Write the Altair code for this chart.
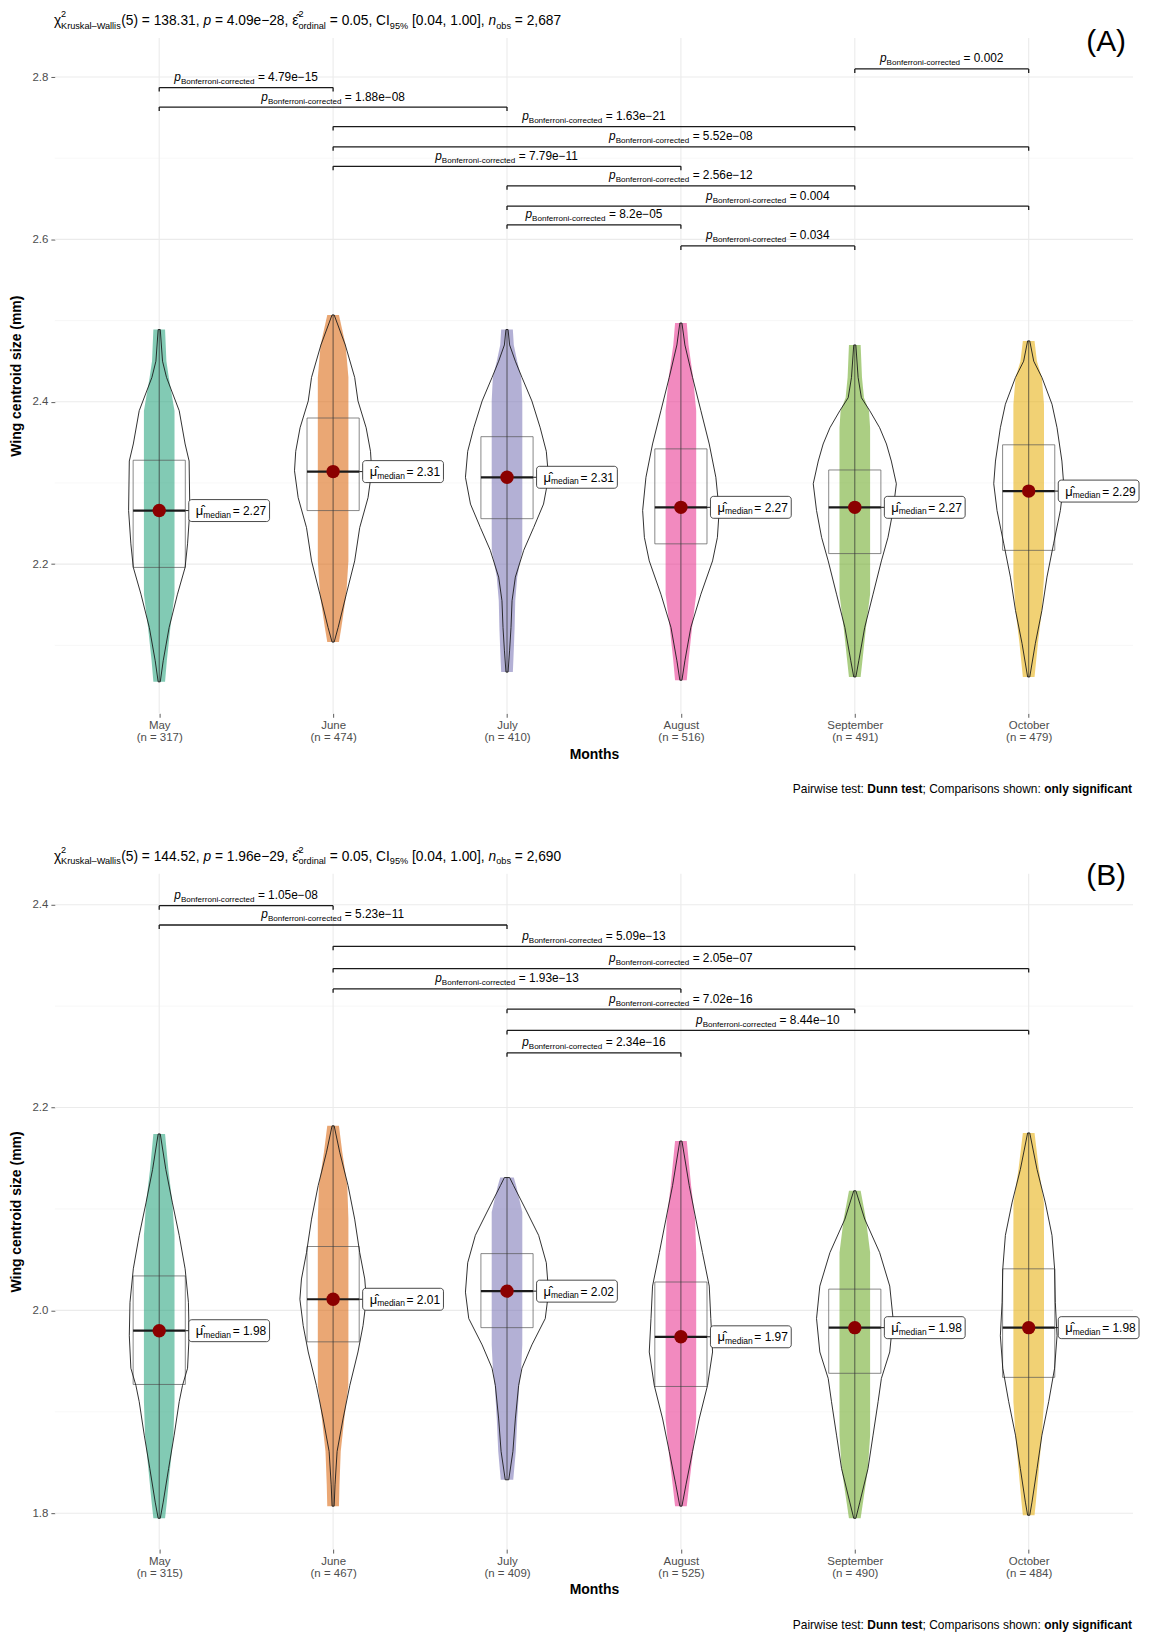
import altair as alt
import pandas as pd

FONT = "Liberation Sans"
MONTHS = ["May", "June", "July", "August", "September", "October"]
COLORS = ["#1B9E77", "#D95F02", "#7570B3", "#E7298A", "#66A61E", "#E6AB02"]

# ---------------- Panel A ----------------
A_N = [317, 474, 410, 516, 491, 479]
A_MEDIAN = [2.266, 2.314, 2.307, 2.270, 2.270, 2.290]
A_MEDIAN_TXT = ["2.27", "2.31", "2.31", "2.27", "2.27", "2.29"]
A_Q1 = [2.196, 2.266, 2.256, 2.225, 2.213, 2.217]
A_Q3 = [2.328, 2.380, 2.357, 2.342, 2.316, 2.347]

A_MAY_Y = [2.489, 2.450, 2.430, 2.389, 2.348, 2.327, 2.266, 2.225, 2.196, 2.163, 2.122, 2.081, 2.055]
A_MAY_W = [0.006, 0.019, 0.042, 0.115, 0.149, 0.172, 0.176, 0.163, 0.149, 0.105, 0.057, 0.023, 0.006]
A_JUN_Y = [2.507, 2.470, 2.430, 2.401, 2.368, 2.339, 2.315, 2.282, 2.245, 2.204, 2.163, 2.122, 2.104]
A_JUN_W = [0.006, 0.070, 0.124, 0.143, 0.190, 0.215, 0.222, 0.201, 0.153, 0.124, 0.076, 0.029, 0.006]
A_JUL_Y = [2.489, 2.470, 2.450, 2.430, 2.401, 2.368, 2.339, 2.307, 2.274, 2.245, 2.217, 2.184, 2.155, 2.122, 2.094, 2.067]
A_JUL_W = [0.006, 0.015, 0.048, 0.086, 0.143, 0.191, 0.226, 0.239, 0.210, 0.153, 0.096, 0.048, 0.029, 0.023, 0.015, 0.006]
A_AUG_Y = [2.497, 2.470, 2.430, 2.389, 2.348, 2.307, 2.266, 2.233, 2.204, 2.163, 2.122, 2.081, 2.057]
A_AUG_W = [0.006, 0.023, 0.067, 0.115, 0.163, 0.201, 0.220, 0.210, 0.182, 0.115, 0.057, 0.023, 0.006]
A_SEP_Y = [2.470, 2.430, 2.405, 2.389, 2.368, 2.348, 2.327, 2.299, 2.266, 2.233, 2.204, 2.163, 2.122, 2.081, 2.061]
A_SEP_W = [0.006, 0.019, 0.038, 0.086, 0.143, 0.182, 0.210, 0.239, 0.220, 0.191, 0.153, 0.105, 0.057, 0.023, 0.006]
A_OCT_Y = [2.475, 2.450, 2.430, 2.397, 2.368, 2.327, 2.299, 2.266, 2.225, 2.184, 2.143, 2.102, 2.061]
A_OCT_W = [0.006, 0.029, 0.076, 0.134, 0.163, 0.191, 0.201, 0.182, 0.143, 0.105, 0.076, 0.038, 0.006]

A_PAIR_I = [5, 1, 1, 2, 2, 2, 3, 3, 3, 4]
A_PAIR_J = [6, 2, 3, 5, 6, 4, 5, 6, 4, 5]
A_PAIR_Y = [2.810, 2.787, 2.763, 2.739, 2.714, 2.690, 2.666, 2.641, 2.618, 2.592]
A_PAIR_P = ["0.002", "4.79e\u221215", "1.88e\u221208", "1.63e\u221221", "5.52e\u221208",
            "7.79e\u221211", "2.56e\u221212", "0.004", "8.2e\u221205", "0.034"]
A_STATS = ["138.31", "4.09e\u221228", "2,687"]

# ---------------- Panel B ----------------
B_N = [315, 467, 409, 525, 490, 484]
B_MEDIAN = [1.980, 2.011, 2.019, 1.974, 1.983, 1.983]
B_MEDIAN_TXT = ["1.98", "2.01", "2.02", "1.97", "1.98", "1.98"]
B_Q1 = [1.927, 1.969, 1.983, 1.925, 1.938, 1.934]
B_Q3 = [2.034, 2.063, 2.056, 2.028, 2.021, 2.041]

B_MAY_Y = [2.174, 2.139, 2.106, 2.074, 2.041, 2.008, 1.975, 1.943, 1.926, 1.910, 1.877, 1.844, 1.811, 1.795]
B_MAY_W = [0.006, 0.038, 0.076, 0.115, 0.149, 0.168, 0.172, 0.163, 0.134, 0.115, 0.086, 0.054, 0.023, 0.006]
B_JUN_Y = [2.182, 2.156, 2.123, 2.090, 2.057, 2.031, 2.011, 1.985, 1.959, 1.926, 1.893, 1.861, 1.828, 1.807]
B_JUN_W = [0.006, 0.038, 0.086, 0.124, 0.153, 0.182, 0.191, 0.172, 0.143, 0.096, 0.057, 0.023, 0.011, 0.006]
B_JUL_Y = [2.131, 2.123, 2.097, 2.074, 2.047, 2.018, 1.992, 1.966, 1.943, 1.926, 1.893, 1.861, 1.833]
B_JUL_W = [0.015, 0.038, 0.115, 0.182, 0.226, 0.239, 0.220, 0.143, 0.086, 0.067, 0.048, 0.034, 0.010]
B_AUG_Y = [2.167, 2.123, 2.090, 2.057, 2.024, 1.992, 1.959, 1.926, 1.893, 1.861, 1.828, 1.807]
B_AUG_W = [0.006, 0.048, 0.086, 0.124, 0.163, 0.172, 0.182, 0.153, 0.105, 0.067, 0.029, 0.006]
B_SEP_Y = [2.118, 2.090, 2.057, 2.024, 1.992, 1.959, 1.933, 1.910, 1.877, 1.844, 1.811, 1.795]
B_SEP_W = [0.006, 0.057, 0.143, 0.201, 0.220, 0.201, 0.153, 0.134, 0.105, 0.076, 0.029, 0.006]
B_OCT_Y = [2.175, 2.139, 2.106, 2.074, 2.041, 2.008, 1.975, 1.943, 1.910, 1.877, 1.844, 1.811, 1.798]
B_OCT_W = [0.006, 0.048, 0.096, 0.134, 0.149, 0.153, 0.163, 0.149, 0.115, 0.076, 0.048, 0.019, 0.006]

B_PAIR_I = [1, 1, 2, 2, 2, 3, 3, 3]
B_PAIR_J = [2, 3, 5, 6, 4, 5, 6, 4]
B_PAIR_Y = [2.399, 2.380, 2.359, 2.337, 2.317, 2.297, 2.276, 2.254]
B_PAIR_P = ["1.05e\u221208", "5.23e\u221211", "5.09e\u221213", "2.05e\u221207",
            "1.93e\u221213", "7.02e\u221216", "8.44e\u221210", "2.34e\u221216"]
B_STATS = ["144.52", "1.96e\u221229", "2,690"]

# ---------------- layout constants ----------------
W = 1081
H = 677
XDOM = [0.4, 6.6]
XU = (XDOM[1] - XDOM[0]) / W
BOX_HW = 0.15
LAB_GAP = 0.17

REG_W = {" ": 278, "(": 333, ")": 333, ",": 278, "-": 333, ".": 278, ":": 278, ";": 278,
         "=": 584, "[": 278, "]": 278, "%": 889, "\u2212": 584, "\u2013": 556,
         "\u03c7": 520, "\u03bc": 576, "\u03b5": 450, "\u0302": 0}
for c in "0123456789":
    REG_W[c] = 556
for c, w in zip("ABCDEFGHIJKLMNOPQRSTUVWXYZ",
                [667, 667, 722, 722, 667, 611, 778, 722, 278, 500, 667, 556, 833, 722, 778, 667, 778, 722,
                 667, 611, 722, 667, 944, 667, 667, 611]):
    REG_W[c] = w
for c, w in zip("abcdefghijklmnopqrstuvwxyz",
                [556, 556, 500, 556, 556, 278, 556, 556, 222, 222, 500, 222, 833, 556, 556, 556, 556, 333,
                 500, 278, 556, 500, 722, 500, 500, 500]):
    REG_W[c] = w
BOLD_W = {" ": 278, ";": 333, ":": 333, "D": 722}
for c, w in zip("abcdefghijklmnopqrstuvwxyz",
                [556, 611, 556, 611, 556, 333, 611, 611, 278, 278, 556, 278, 889, 611, 611, 611, 611, 389,
                 556, 333, 611, 556, 778, 556, 556, 500]):
    BOLD_W[c] = w


def tw(s, size, bold=False):
    tab = BOLD_W if bold else REG_W
    tot = 0
    for c in s:
        tot += tab.get(c, REG_W.get(c, 556))
    return tot * size / 1000.0


def compose(segs, x0, base, main, small, sup_dy, sub_dy):
    out = []
    x = x0
    for seg in segs:
        kind = seg[0]
        if kind == "supsub":
            out.append((seg[1], x, base + sup_dy, small, "normal", "normal"))
            out.append((seg[2], x, base + sub_dy, small, "normal", "normal"))
            x += max(tw(seg[1], small), tw(seg[2], small))
            continue
        t = seg[1]
        size = small if kind == "sub" else main
        bold = kind == "bold"
        lead = len(t) - len(t.lstrip(" "))
        x += tw(" " * lead, size, bold)
        core = t.lstrip(" ")
        y = base + (sub_dy if kind == "sub" else 0)
        out.append((core.rstrip(" "), x, y, size, "italic" if kind == "ital" else "normal",
                    "bold" if bold else "normal"))
        x += tw(core, size, bold)
    return out, x - x0


ONE = pd.DataFrame({"k": [0]})


def piece_layers(pieces, shift=0.0):
    layers = []
    for (t, x, y, size, style, weight) in pieces:
        layers.append(
            alt.Chart(ONE).mark_text(align="left", baseline="alphabetic", font=FONT, fontSize=size,
                                     fontStyle=style, fontWeight=weight, color="black")
            .encode(x=alt.value(x + shift), y=alt.value(y), text=alt.value(t))
        )
    return layers


def make_panel(tag, tag_base, ydom, major, minor, n, med, medtxt, q1, q3, vys, vws,
               pi, pj, py, pp, stats):
    ppu = H / (ydom[1] - ydom[0])
    xs = alt.Scale(domain=XDOM, nice=False, zero=False)
    ys = alt.Scale(domain=ydom, nice=False, zero=False)

    arr = ",".join("['%s','(n = %d)']" % (m, k) for m, k in zip(MONTHS, n))
    xaxis = alt.Axis(values=[1, 2, 3, 4, 5, 6], labelExpr="[%s][datum.value - 1]" % arr,
                     grid=False, domain=False, tickSize=4, tickColor="#333333", tickWidth=0.8,
                     labelColor="#4D4D4D", labelFontSize=11.5, labelLineHeight=12.5, labelPadding=2,
                     labelOverlap=False, labelFlush=False, title="Months", titleFontSize=14,
                     titleFontWeight="bold", titleColor="black", titlePadding=4)
    yaxis = alt.Axis(values=major, format=".1f", grid=False, domain=False, tickSize=4,
                     tickColor="#333333", tickWidth=0.8, labelColor="#4D4D4D", labelFontSize=11.5,
                     labelPadding=3, labelFlush=False, title="Wing centroid size (mm)",
                     titleFontSize=14, titleFontWeight="bold", titleColor="black", titlePadding=8)

    def X(f):
        return alt.X(f, type="quantitative", scale=xs, axis=xaxis)

    def Y(f):
        return alt.Y(f, type="quantitative", scale=ys, axis=yaxis)

    layers = []
    # grid
    layers.append(alt.Chart(pd.DataFrame({"y": minor})).mark_rule(color="#F3F3F3", strokeWidth=0.7)
                  .encode(y=Y("y"), x=alt.value(0), x2=alt.value(W)))
    layers.append(alt.Chart(pd.DataFrame({"y": major})).mark_rule(color="#EBEBEB", strokeWidth=1.1)
                  .encode(y=Y("y"), x=alt.value(0), x2=alt.value(W)))
    layers.append(alt.Chart(pd.DataFrame({"x": [1, 2, 3, 4, 5, 6]}))
                  .mark_rule(color="#EBEBEB", strokeWidth=1.1)
                  .encode(x=X("x"), y=alt.value(0), y2=alt.value(H)))

    # violin outline + point-cloud band
    rows = []
    for i, m in enumerate(MONTHS):
        for yv, wv in zip(vys[i], vws[i]):
            bw = min(0.088, 0.03 + 0.6 * wv)
            rows.append(dict(month=m, y=yv, xl=i + 1 - wv, xr=i + 1 + wv, bl=i + 1 - bw, br=i + 1 + bw))
    vdf = pd.DataFrame(rows).sort_values(["month", "y"])
    color = alt.Color("month:N", scale=alt.Scale(domain=MONTHS, range=COLORS), legend=None)
    layers.append(alt.Chart(vdf).mark_area(orient="horizontal", opacity=0.55)
                  .encode(y=Y("y"), x=X("bl"), x2=alt.X2("br"), color=color))

    bdf = pd.DataFrame(dict(
        month=MONTHS, pos=[1, 2, 3, 4, 5, 6], q1=q1, q3=q3, med=med,
        bxl=[k - BOX_HW for k in range(1, 7)], bxr=[k + BOX_HW for k in range(1, 7)],
        labx=[k + LAB_GAP for k in range(1, 7)],
        ymin=[min(v) for v in vys], ymax=[max(v) for v in vys],
        medlab=["= " + t for t in medtxt]))
    layers.append(alt.Chart(bdf).mark_rect(fill="white", fillOpacity=0, stroke="#555555", strokeWidth=0.7)
                  .encode(x=X("bxl"), x2=alt.X2("bxr"), y=Y("q1"), y2=alt.Y2("q3")))
    layers.append(alt.Chart(bdf).mark_rule(color="#333333", strokeWidth=0.7)
                  .encode(x=X("pos"), y=Y("ymin"), y2=alt.Y2("ymax")))
    layers.append(alt.Chart(vdf).mark_area(orient="horizontal", fill="white", fillOpacity=0,
                                           stroke="#1a1a1a", strokeWidth=0.9)
                  .encode(y=Y("y"), x=X("xl"), x2=alt.X2("xr"), detail="month:N"))
    layers.append(alt.Chart(bdf).mark_rule(color="#1a1a1a", strokeWidth=2.2)
                  .encode(x=X("bxl"), x2=alt.X2("bxr"), y=Y("med")))
    layers.append(alt.Chart(bdf).mark_rule(color="#1a1a1a", strokeWidth=1)
                  .encode(x=X("bxr"), x2=alt.X2("labx"), y=Y("med")))
    layers.append(alt.Chart(bdf).mark_circle(size=180, color="#8B0000", opacity=1)
                  .encode(x=X("pos"), y=Y("med")))
    layers.append(alt.Chart(bdf).mark_rect(fill="white", stroke="#1a1a1a", strokeWidth=0.8, cornerRadius=3,
                                           x2Offset=81, yOffset=-11, y2Offset=11)
                  .encode(x=X("labx"), x2=alt.X2("labx"), y=Y("med"), y2=alt.Y2("med")))
    layers.append(alt.Chart(bdf).mark_text(align="left", baseline="alphabetic", font=FONT, fontSize=13,
                                           dx=7, dy=4.5, color="black")
                  .encode(x=X("labx"), y=Y("med"), text=alt.value("\u03bc\u0302")))
    layers.append(alt.Chart(bdf).mark_text(align="left", baseline="alphabetic", font=FONT, fontSize=8.5,
                                           dx=14.5, dy=7, color="black")
                  .encode(x=X("labx"), y=Y("med"), text=alt.value("median")))
    layers.append(alt.Chart(bdf).mark_text(align="left", baseline="alphabetic", font=FONT, fontSize=12,
                                           dx=44, dy=4.5, color="black")
                  .encode(x=X("labx"), y=Y("med"), text="medlab:N"))

    # significance brackets
    tick = 4.0 / ppu
    kdf = pd.DataFrame(dict(x1=pi, x2=pj, y=py))
    layers.append(alt.Chart(kdf).mark_rule(color="#1a1a1a", strokeWidth=1.3)
                  .encode(x=X("x1"), x2=alt.X2("x2"), y=Y("y")))
    trows = []
    for a, b, yv in zip(pi, pj, py):
        trows.append(dict(x=a, y=yv, y2=yv - tick))
        trows.append(dict(x=b, y=yv, y2=yv - tick))
    layers.append(alt.Chart(pd.DataFrame(trows)).mark_rule(color="#1a1a1a", strokeWidth=1.3)
                  .encode(x=X("x"), y=Y("y"), y2=alt.Y2("y2")))
    MS, SS = 11.9, 8.1
    lrows = []
    for a, b, yv, p in zip(pi, pj, py, pp):
        wp = tw("p", MS)
        wsub = tw("Bonferroni-corrected", SS)
        sp = tw(" ", MS)
        wv = tw("= " + p, MS)
        total = wp + wsub + sp + wv
        mid = (a + b) / 2.0
        xp = mid - total / 2.0 * XU
        lrows.append(dict(y=yv, xp=xp, xs=xp + wp * XU, xv=xp + (wp + wsub + sp) * XU, val="= " + p))
    ldf = pd.DataFrame(lrows)
    layers.append(alt.Chart(ldf).mark_text(align="left", baseline="alphabetic", font=FONT, fontSize=MS,
                                           fontStyle="italic", dy=-6.5, color="black")
                  .encode(x=X("xp"), y=Y("y"), text=alt.value("p")))
    layers.append(alt.Chart(ldf).mark_text(align="left", baseline="alphabetic", font=FONT, fontSize=SS,
                                           dy=-3.5, color="black")
                  .encode(x=X("xs"), y=Y("y"), text=alt.value("Bonferroni-corrected")))
    layers.append(alt.Chart(ldf).mark_text(align="left", baseline="alphabetic", font=FONT, fontSize=MS,
                                           dy=-6.5, color="black")
                  .encode(x=X("xv"), y=Y("y"), text="val:N"))

    # subtitle (statistics line)
    segs = [("main", "\u03c7"), ("supsub", "2", "Kruskal\u2013Wallis"),
            ("main", "(5) = %s, " % stats[0]), ("ital", "p"), ("main", " = %s, " % stats[1]),
            ("main", "\u03b5\u0302"), ("supsub", "2", "ordinal"), ("main", " = 0.05, CI"),
            ("sub", "95%"), ("main", " [0.04, 1.00], "), ("ital", "n"), ("sub", "obs"),
            ("main", " = %s" % stats[2])]
    pieces, _ = compose(segs, -1, -13, 13.8, 9.2, -8, 3.5)
    layers += piece_layers(pieces)

    # caption
    csegs = [("main", "Pairwise test: "), ("bold", "Dunn test"), ("main", "; Comparisons shown: "),
             ("bold", "only significant")]
    cpieces, cw = compose(csegs, 0, H + 80, 12, 12, 0, 0)
    layers += piece_layers(cpieces, shift=W - 1 - cw)

    # panel tag
    layers.append(alt.Chart(ONE).mark_text(align="right", baseline="alphabetic", font=FONT, fontSize=30,
                                           color="black")
                  .encode(x=alt.value(1074), y=alt.value(tag_base), text=alt.value(tag)))

    return alt.layer(*layers).properties(width=W, height=H)


panel_a = make_panel("(A)", 13, [2.0163, 2.848], [2.2, 2.4, 2.6, 2.8], [2.1, 2.3, 2.5, 2.7],
                     A_N, A_MEDIAN, A_MEDIAN_TXT, A_Q1, A_Q3,
                     [A_MAY_Y, A_JUN_Y, A_JUL_Y, A_AUG_Y, A_SEP_Y, A_OCT_Y],
                     [A_MAY_W, A_JUN_W, A_JUL_W, A_AUG_W, A_SEP_W, A_OCT_W],
                     A_PAIR_I, A_PAIR_J, A_PAIR_Y, A_PAIR_P, A_STATS)
panel_b = make_panel("(B)", 11, [1.7647, 2.4304], [1.8, 2.0, 2.2, 2.4], [1.9, 2.1, 2.3],
                     B_N, B_MEDIAN, B_MEDIAN_TXT, B_Q1, B_Q3,
                     [B_MAY_Y, B_JUN_Y, B_JUL_Y, B_AUG_Y, B_SEP_Y, B_OCT_Y],
                     [B_MAY_W, B_JUN_W, B_JUL_W, B_AUG_W, B_SEP_W, B_OCT_W],
                     B_PAIR_I, B_PAIR_J, B_PAIR_Y, B_PAIR_P, B_STATS)

chart = (
    alt.vconcat(panel_a, panel_b, spacing=51)
    .properties(padding={"left": 2, "top": 0, "right": 4, "bottom": 0}, background="white")
    .configure_view(stroke=None)
    .configure_axis(labelFont=FONT, titleFont=FONT)
    .configure_text(font=FONT)
)

chart.save("out.html", embed_options={"renderer": "svg", "actions": False})
